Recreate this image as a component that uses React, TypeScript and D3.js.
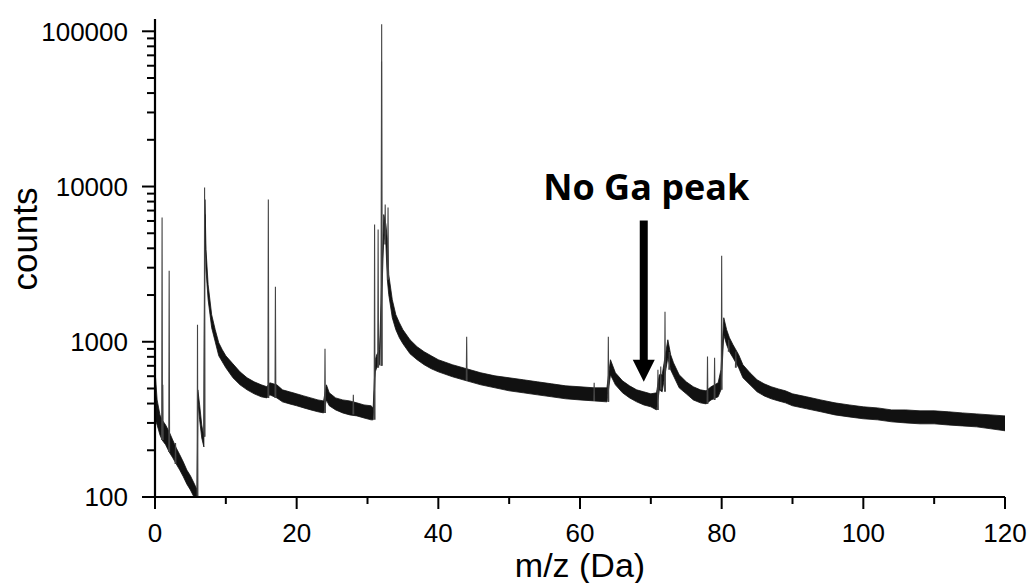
import React from "react";
import * as d3 from "d3";

// Background signal band (m/z, upper and lower edge of the noisy trace, counts)
const bandMz = [0.05, 0.3, 0.7, 1.0, 1.5, 2.0, 2.5, 3.0, 3.5, 4.0, 4.5, 5.0, 5.5, 5.95, 6.05, 6.3, 6.6, 6.9, 7.05, 7.2, 7.5, 8.0, 8.5, 9.0, 9.5, 10, 11, 12, 13, 14, 15, 15.8, 16.2, 17.2, 18, 19, 20, 21, 22, 23, 23.8, 24.2, 24.6, 25.5, 26.5, 27.5, 28.5, 29.5, 30.5, 30.8, 31.1, 31.3, 31.7, 32.3, 32.6, 32.8, 33.0, 33.5, 34.0, 34.5, 35, 36, 37, 38, 39, 40, 42, 44, 46, 48, 50, 52, 54, 56, 58, 60, 62, 63.8, 64.3, 65, 66, 67, 68, 69, 70, 70.8, 71.2, 71.6, 72.4, 72.8, 73.2, 74, 75, 76, 77, 77.8, 78.5, 79.5, 79.9, 80.3, 80.7, 81.1, 81.6, 82.4, 83, 84, 85, 86, 87, 88, 89, 90, 92, 94, 96, 98, 100, 102, 104, 106, 108, 110, 112, 114, 116, 118, 120];
const bandHi = [613, 422, 338, 314, 291, 263, 233, 207, 187, 168, 149, 137, 123, 111, 490, 392, 291, 244, 8241, 3923, 2333, 1494, 1196, 985, 888, 812, 721, 640, 586, 552, 528, 513, 544, 528, 490, 476, 462, 448, 435, 422, 416, 528, 469, 435, 422, 416, 404, 392, 387, 375, 766, 825, 888, 6598, 5687, 4550, 2706, 1866, 1494, 1326, 1196, 1030, 929, 862, 812, 766, 711, 670, 631, 603, 586, 569, 552, 536, 520, 513, 505, 505, 766, 631, 560, 520, 490, 476, 462, 469, 613, 613, 1030, 825, 732, 613, 552, 513, 490, 483, 513, 544, 660, 1428, 1196, 1061, 957, 825, 711, 631, 569, 536, 513, 497, 483, 462, 442, 422, 404, 392, 381, 375, 364, 364, 359, 359, 354, 348, 343, 338, 333];
const bandLo = [314, 291, 251, 233, 217, 195, 179, 163, 149, 135, 121, 111, 100, 89, 422, 314, 240, 210, 6598, 2914, 1866, 1231, 1000, 812, 743, 680, 586, 528, 490, 462, 442, 435, 455, 435, 410, 398, 387, 375, 364, 354, 348, 422, 387, 364, 348, 338, 333, 323, 314, 314, 640, 680, 711, 4903, 4225, 2512, 2010, 1428, 1196, 1061, 971, 837, 766, 711, 670, 640, 595, 560, 528, 505, 483, 469, 455, 442, 429, 422, 416, 410, 613, 528, 469, 435, 410, 392, 381, 364, 490, 476, 789, 660, 603, 505, 462, 422, 404, 398, 422, 442, 490, 1110, 957, 862, 789, 680, 586, 528, 476, 448, 429, 416, 404, 387, 370, 354, 338, 328, 319, 314, 305, 300, 296, 296, 291, 287, 283, 275, 267];

// Sharp peaks (m/z, apex counts, foot counts)
const peakMz = [1.0, 1.1, 2.0, 2.9, 6.0, 7.0, 16.0, 17.0, 24.0, 28.0, 31.0, 31.5, 32.0, 31.98, 32.5, 32.9, 44.0, 62.0, 64.0, 71.0, 71.4, 72.0, 72.6, 78.0, 79.0, 80.0, 81.0, 82.0];
const peakTop = [6310, 528, 2872, 223, 1287, 9851, 8241, 2264, 901, 455, 5690, 5280, 111000, 64000, 7656, 7320, 1077, 544, 1077, 660, 693, 1562, 860, 804, 789, 3588, 1030, 866];
const peakFoot = [233, 233, 195, 163, 89, 244, 435, 435, 348, 340, 314, 680, 700, 700, 4225, 2512, 560, 416, 410, 364, 490, 476, 660, 398, 422, 490, 862, 680];

const xTicks = [0, 20, 40, 60, 80, 100, 120];
const xMinorTicks = [10, 30, 50, 70, 90, 110];
const yTicks = [100, 1000, 10000, 100000];
const yTickLabels = ["100", "1000", "10000", "100000"];

// Annotation (data coordinates)
const annotText = "No Ga peak";
const annotTextMz = 54.8;
const annotTextCounts = 8240;
const arrowMz = 69.0;
const arrowTopCounts = 6040;
const arrowTipCounts = 553;

export default function App() {
  const W = 1034;
  const H = 583;
  const x = d3.scaleLinear().domain([0, 120]).range([155, 1005]);
  const y = d3.scaleLog().domain([100, 120000]).range([497, 19]);

  const bandData = bandMz.map((m, i) => ({ m, hi: bandHi[i], lo: bandLo[i] }));
  const area = d3
    .area<{ m: number; hi: number; lo: number }>()
    .x((d) => x(d.m))
    .y0((d) => y(Math.max(d.lo, 1)))
    .y1((d) => y(Math.max(d.hi, 1)));
  const bandPath = area(bandData) || "";

  const line = d3
    .line<[number, number]>()
    .x((d) => x(d[0]))
    .y((d) => y(d[1]));

  const peakPaths = peakMz.map((m, i) =>
    line([
      [m - 0.06, peakFoot[i]],
      [m, peakTop[i]],
      [m + 0.06, peakFoot[i]],
    ]) || ""
  );

  const minorY = y
    .ticks()
    .filter((t) => !yTicks.includes(t) && t >= 100 && t <= 120000);

  const [x0, x1] = x.range();
  const [yb, yt] = y.range();

  const ax = x(arrowMz);
  const aTop = y(arrowTopCounts);
  const aTip = y(arrowTipCounts);
  const headLen = 22;
  const headHalf = 11;
  const shaftHalf = 4;

  const tickFont = "'Liberation Sans', Arial, sans-serif";

  return (
    <svg
      width={W}
      height={H}
      viewBox={`0 0 ${W} ${H}`}
      style={{ position: "absolute", left: 0, top: 0, background: "#fff" }}
    >
      <defs>
        <clipPath id="plotClip">
          <rect x={x0} y={yt} width={x1 - x0} height={yb - yt} />
        </clipPath>
      </defs>
      <rect x={0} y={0} width={W} height={H} fill="#fff" />

      <g clipPath="url(#plotClip)">
        <path d={bandPath} fill="#111" stroke="#111" strokeWidth={0.8} />
        {peakPaths.map((p, i) => (
          <path key={i} d={p} fill="none" stroke="#444" strokeWidth={1.1} />
        ))}
      </g>

      {/* axes */}
      <line x1={x0} x2={x0} y1={yt} y2={yb} stroke="#000" strokeWidth={2.2} />
      <line x1={x0} x2={x1} y1={yb} y2={yb} stroke="#000" strokeWidth={2.2} />

      {yTicks.map((t, i) => (
        <g key={"y" + t}>
          <line x1={x0 - 13} x2={x0} y1={y(t)} y2={y(t)} stroke="#000" strokeWidth={2} />
          <text
            x={128}
            y={y(t)}
            dy="0.36em"
            textAnchor="end"
            fontFamily={tickFont}
            fontSize={26}
            fill="#000"
          >
            {yTickLabels[i]}
          </text>
        </g>
      ))}
      {minorY.map((t) => (
        <line key={"ym" + t} x1={x0 - 8} x2={x0} y1={y(t)} y2={y(t)} stroke="#000" strokeWidth={2} />
      ))}

      {xTicks.map((t) => (
        <g key={"x" + t}>
          <line x1={x(t)} x2={x(t)} y1={yb} y2={yb + 12} stroke="#000" strokeWidth={2} />
          <text
            x={x(t)}
            y={542}
            textAnchor="middle"
            fontFamily={tickFont}
            fontSize={26}
            fill="#000"
          >
            {t}
          </text>
        </g>
      ))}
      {xMinorTicks.map((t) => (
        <line key={"xm" + t} x1={x(t)} x2={x(t)} y1={yb} y2={yb + 7} stroke="#000" strokeWidth={2} />
      ))}

      <text
        x={(x0 + x1) / 2}
        y={577}
        textAnchor="middle"
        fontFamily={tickFont}
        fontSize={34}
        fill="#000"
      >
        m/z (Da)
      </text>
      <text
        transform={`translate(37,239) rotate(-90)`}
        textAnchor="middle"
        fontFamily={tickFont}
        fontSize={35}
        fill="#000"
      >
        counts
      </text>

      {/* annotation */}
      <text
        x={x(annotTextMz)}
        y={y(annotTextCounts)}
        fontFamily="'Open Sans', 'Noto Sans', sans-serif"
        fontWeight={700}
        fontSize={36}
        fill="#000"
      >
        {annotText}
      </text>
      <rect x={ax - shaftHalf} y={aTop} width={shaftHalf * 2} height={aTip - headLen - aTop + 1} fill="#000" />
      <path
        d={`M${ax - headHalf},${aTip - headLen} L${ax + headHalf},${aTip - headLen} L${ax},${aTip} Z`}
        fill="#000"
      />
    </svg>
  );
}
